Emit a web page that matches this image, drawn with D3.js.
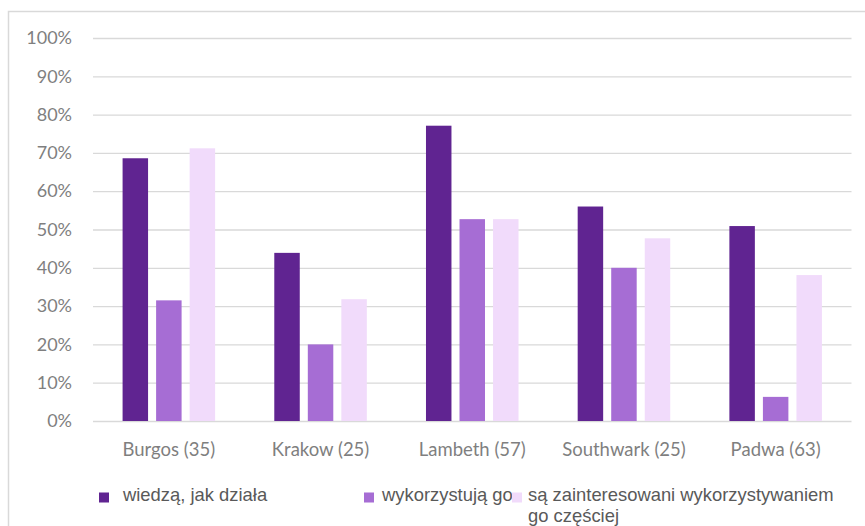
<!DOCTYPE html>
<html>
<head>
<meta charset="utf-8">
<script src="https://cdn.jsdelivr.net/npm/d3@7"></script>
<style>
  html, body { margin: 0; padding: 0; background: #fff; }
  svg { display: block; }
</style>
</head>
<body>
<svg id="chart" width="865" height="526"></svg>
<script>
// Sites surveyed (number of respondents in brackets)
const categories = ["Burgos (35)", "Krakow (25)", "Lambeth (57)", "Southwark (25)", "Padwa (63)"];
const seriesNames = [
  "wiedzą, jak działa",
  "wykorzystują go",
  "są zainteresowani wykorzystywaniem go częściej"
];
// Share of respondents, in percent
const knowHow   = [68.6, 43.9, 77.1, 56.0, 50.9];
const useIt     = [31.5, 20.0, 52.7, 40.0, 6.3];
const wantMore  = [71.2, 31.8, 52.7, 47.7, 38.1];
const yTicks = [0, 10, 20, 30, 40, 50, 60, 70, 80, 90, 100];
const colors = ["#602491", "#a66dd4", "#f1dbfb"];

const series = [knowHow, useIt, wantMore];

const svg = d3.select("#chart");

// outer chart frame
svg.append("rect")
  .attr("x", 8.5).attr("y", 11.5)
  .attr("width", 900).attr("height", 600)
  .attr("fill", "none").attr("stroke", "#d9d9d9").attr("stroke-width", 1.5);

const plot = { left: 93, right: 851.5, top: 38, bottom: 421 };

const y = d3.scaleLinear().domain([0, 100]).range([plot.bottom, plot.top]);
const x0 = d3.scaleBand().domain(categories)
  .range([plot.left, plot.right]).paddingInner(0.39).paddingOuter(0.195);
const x1 = d3.scaleBand().domain(d3.range(series.length))
  .range([0, x0.bandwidth()]).paddingInner(0.24);

// gridlines and value axis
const yAxis = d3.axisLeft(y).tickValues(yTicks)
  .tickFormat(d => d + "%")
  .tickSize(-(plot.right - plot.left)).tickPadding(21);
const gy = svg.append("g").attr("transform", `translate(${plot.left},0)`).call(yAxis);
gy.select(".domain").remove();
gy.selectAll(".tick line").attr("stroke", "#d9d9d9").attr("stroke-width", 1.3);
gy.selectAll(".tick text")
  .attr("fill", "#7f7f7f")
  .style("font-family", "Lato, 'Open Sans', sans-serif")
  .style("font-size", "18px");

// bars
const groups = svg.append("g").selectAll("g")
  .data(categories)
  .join("g")
  .attr("transform", d => `translate(${x0(d)},0)`);

groups.selectAll("rect")
  .data((d, i) => series.map((s, k) => ({ k, v: s[i] })))
  .join("rect")
  .attr("x", d => x1(d.k))
  .attr("width", x1.bandwidth())
  .attr("y", d => y(d.v))
  .attr("height", d => y(0) - y(d.v))
  .attr("fill", d => colors[d.k]);

// category axis
const xAxis = d3.axisBottom(x0).tickSize(0).tickPadding(22);
const gx = svg.append("g").attr("transform", `translate(0,${plot.bottom})`).call(xAxis);
gx.select(".domain").remove();
gx.selectAll(".tick text")
  .attr("fill", "#7f7f7f")
  .style("font-family", "Lato, 'Open Sans', sans-serif")
  .style("font-size", "18.5px");

// legend
const legendItems = [
  { sx: 99,  tx: 123, lines: ["wiedzą, jak działa"] },
  { sx: 364, tx: 382, lines: ["wykorzystują go"] },
  { sx: 512, tx: 528, lines: ["są zainteresowani wykorzystywaniem", "go częściej"] }
];
const legend = svg.append("g");
legendItems.forEach((item, i) => {
  legend.append("rect")
    .attr("x", item.sx).attr("y", 492.5)
    .attr("width", 10).attr("height", 10)
    .attr("fill", colors[i]);
  const t = legend.append("text")
    .attr("x", item.tx).attr("y", 501)
    .attr("fill", "#595959")
    .style("font-family", "'Liberation Sans', Arial, sans-serif")
    .style("font-size", "18.4px");
  t.selectAll("tspan").data(item.lines).join("tspan")
    .attr("x", item.tx)
    .attr("dy", (d, j) => j === 0 ? 0 : 21)
    .text(d => d);
});
</script>
</body>
</html>
